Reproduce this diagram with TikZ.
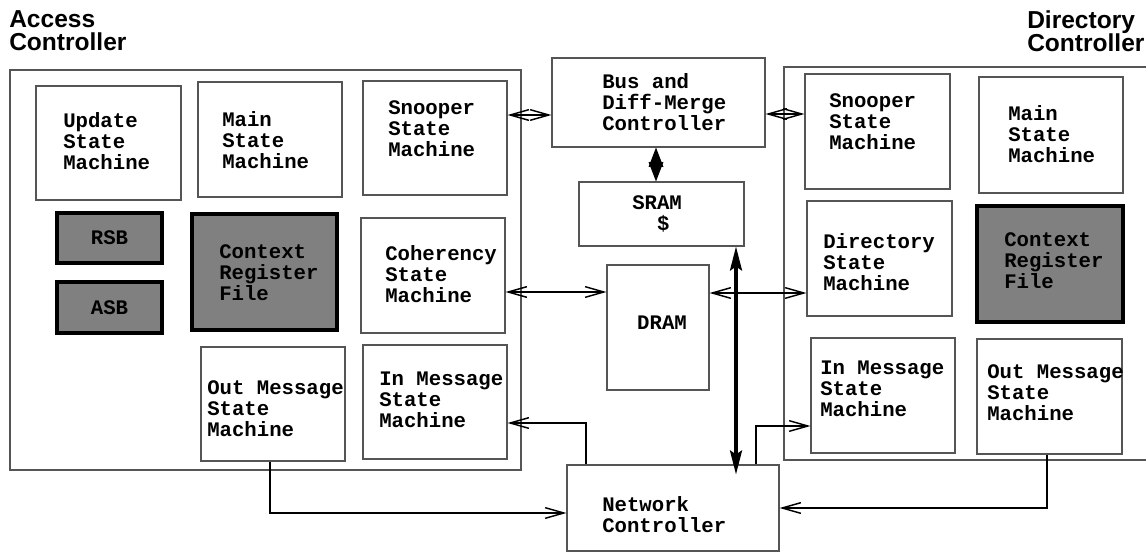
\documentclass[tikz,border=0pt]{standalone}
\usepackage{fontspec}
\setmainfont{Liberation Sans}
\setmonofont{Liberation Mono}
\usetikzlibrary{arrows.meta,fit,calc}
\definecolor{edgegray}{RGB}{85,85,85}
\definecolor{fillgray}{RGB}{128,128,128}
\newcommand\mkbox[6]{%
  \path (#3,#4) coordinate (#2-a) (#5,#6) coordinate (#2-b);
  \node[#1, fit=(#2-a)(#2-b)] (#2) {};}
\tikzset{
  box/.style={draw=edgegray, line width=0.8pt, inner sep=0pt},
  darkbox/.style={draw=black, line width=2.4pt, fill=fillgray, inner sep=0pt},
  lbl/.style={font=\ttfamily\bfseries\fontsize{15.5}{15.75}\selectfont, align=left, anchor=west, inner sep=0pt},
  clbl/.style={font=\ttfamily\bfseries\fontsize{15.5}{15.75}\selectfont, align=center, inner sep=0pt},
  ttl/.style={font=\bfseries\fontsize{18.4}{17.25}\selectfont, align=left, anchor=west, inner sep=0pt},
  conn/.style={draw=black, line width=1.1pt},
  openarrow/.style={conn, -{Straight Barb[length=14pt,width=8pt,line width=1.1pt]}},
  dblarrow/.style={conn, {Straight Barb[length=14pt,width=8pt,line width=1.1pt]}-{Straight Barb[length=14pt,width=8pt,line width=1.1pt]}},
  fatarrow/.style={draw=black, line width=1.1pt, {Stealth[length=14.5pt,width=11pt,inset=1pt]}-{Stealth[length=14.5pt,width=11pt,inset=1pt]}},
  busarrow/.style={draw=black, line width=2.4pt, {Stealth[length=18pt,width=9pt,inset=3pt]}-{Stealth[length=18pt,width=9pt,inset=3pt]}},
}
\begin{document}
\begin{tikzpicture}[x=0.75pt,y=-0.75pt]
\useasboundingbox (0,0) rectangle (1146,552);

% titles
\node[ttl] (t-access) at (9,31) {Access\\Controller};
\node[ttl] (t-dir) at (1027,31) {Directory\\Controller};

% outer containers
\mkbox{box}{ac}{10}{70}{521}{470}
\draw[edgegray, line width=0.8pt] (1150,67) coordinate (dc-tr) -- (784,67) coordinate (dc-tl)
  -- (784,460) coordinate (dc-bl) -- (1150,460) coordinate (dc-br);

% access controller boxes
\mkbox{box}{upd}{36}{86}{181}{200}
\mkbox{box}{amain}{198}{82}{342}{197}
\mkbox{box}{asnoop}{363}{81}{507}{195}
\mkbox{box}{coh}{361}{218}{505}{333}
\mkbox{darkbox}{rsb}{57}{213}{162}{263}
\mkbox{darkbox}{asb}{57}{282}{162}{333}
\mkbox{darkbox}{actx}{192}{214}{337}{330}
\mkbox{box}{aout}{201}{347}{345}{461}
\mkbox{box}{ain}{363}{345}{507}{459}

% center boxes
\mkbox{box}{bus}{552}{58}{765}{147}
\mkbox{box}{sram}{579}{182}{744}{246}
\mkbox{box}{dram}{607}{265}{709}{390}
\mkbox{box}{net}{567}{465}{779}{551}

% directory controller boxes
\mkbox{box}{dsnoop}{805}{74}{950}{189}
\mkbox{box}{dmain}{979}{77}{1123}{193}
\mkbox{box}{dirsm}{807}{201}{952}{316}
\mkbox{darkbox}{dctx}{977}{206}{1123}{322}
\mkbox{box}{din}{811}{338}{955}{453}
\mkbox{box}{dout}{977}{339}{1122}{454}

% labels
\node[lbl] (t-upd) at (63,141) {Update\\State\\Machine};
\node[lbl] (t-amain) at (222,140) {Main\\State\\Machine};
\node[lbl] (t-asnoop) at (388,129) {Snooper\\State\\Machine};
\node[lbl] (t-coh) at (385,274) {Coherency\\State\\Machine};
\node[clbl] (t-rsb) at (rsb) {RSB};
\node[clbl] (t-asb) at (asb) {ASB};
\node[lbl] (t-actx) at (219,273) {Context\\Register\\File};
\node[lbl] (t-aout) at (207,409) {Out Message\\State\\Machine};
\node[lbl] (t-ain) at (379,400) {In Message\\State\\Machine};

\node[lbl] (t-bus) at (602,102) {Bus and\\Diff-Merge\\Controller};
\node[lbl] (t-sram) at (632,214) {SRAM\\\phantom{SR}\$};
\node[clbl] (t-dram) at (662,323) {DRAM};
\node[lbl] (t-net) at (602,515) {Network\\Controller};

\node[lbl] (t-dsnoop) at (829,122) {Snooper\\State\\Machine};
\node[lbl] (t-dmain) at (1008,134) {Main\\State\\Machine};
\node[lbl] (t-dirsm) at (823,262) {Directory\\State\\Machine};
\node[lbl] (t-dctx) at (1004,261) {Context\\Register\\File};
\node[lbl] (t-din) at (820,389) {In Message\\State\\Machine};
\node[lbl] (t-dout) at (987,393) {Out Message\\State\\Machine};

% connectors
\draw[dblarrow] (asnoop.east |- 0,115) -- (bus.west |- 0,115);
\draw[dblarrow] (bus.east |- 0,114) -- (dsnoop.west |- 0,114);
\draw[fatarrow] (bus.south -| 656,0) -- (sram.north -| 656,0);
\draw[dblarrow] (coh.east |- 0,292) -- (dram.west |- 0,292);
\draw[dblarrow] (dram.east |- 0,293) -- (dirsm.west |- 0,293);
\draw[busarrow, shorten >=-7.5pt] (sram.south -| 736,0) -- (net.north -| 736,0);
\draw[openarrow] (net.north -| 586,0) |- (ain.east |- 0,423);
\draw[openarrow] (net.north -| 756,0) |- (din.west |- 0,426);
\draw[openarrow] (aout.south -| 270,0) |- (net.west |- 0,513);
\draw[openarrow] (dout.south -| 1047,0) |- (net.east |- 0,508);
\end{tikzpicture}
\end{document}
